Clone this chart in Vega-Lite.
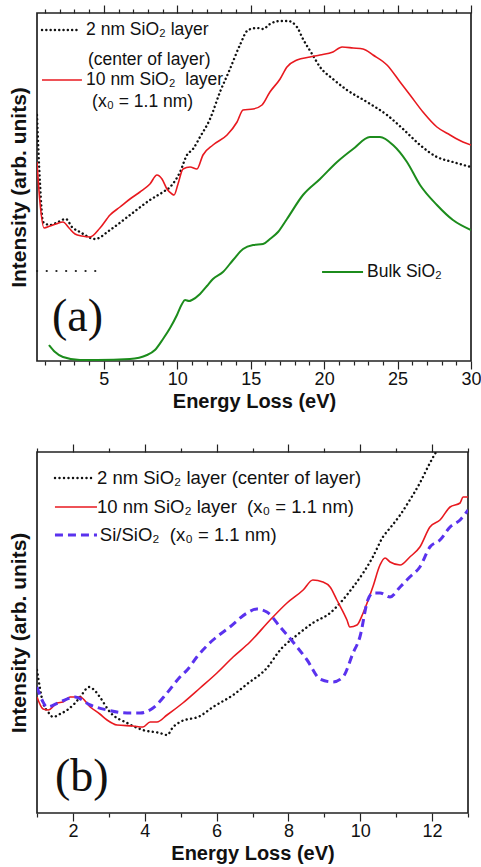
{
  "$schema": "https://vega.github.io/schema/vega-lite/v6.json",
  "background": "white",
  "padding": {"left": 7, "top": 3, "right": 0, "bottom": 0},
  "spacing": 30,
  "config": {
    "view": {"stroke": "#222", "strokeWidth": 1.7},
    "font": "Liberation Sans",
    "axis": {"grid": false}
  },
  "datasets": {
    "t2nm": [
      {"g":"c","E":0.45,"I":246},{"g":"c","E":0.65,"I":179},{"g":"c","E":0.86,"I":139},{"g":"c","E":1.34,"I":136},{"g":"c","E":1.74,"I":138},{"g":"c","E":2.42,"I":142},{"g":"c","E":2.83,"I":134},{"g":"c","E":3.38,"I":129},{"g":"c","E":4.4,"I":122},{"g":"c","E":5.42,"I":131},{"g":"c","E":6.78,"I":146},{"g":"c","E":8.14,"I":161},{"g":"c","E":9.03,"I":169},{"g":"c","E":9.51,"I":174},{"g":"c","E":10.19,"I":189},{"g":"c","E":10.66,"I":206},{"g":"c","E":11.07,"I":212},{"g":"c","E":11.55,"I":224},{"g":"c","E":12.23,"I":242},{"g":"c","E":12.91,"I":269},{"g":"c","E":13.59,"I":292},{"g":"c","E":14.27,"I":316},{"g":"c","E":14.82,"I":331},{"g":"c","E":15.43,"I":333},{"g":"c","E":15.84,"I":332},{"g":"c","E":16.31,"I":337},{"g":"c","E":17.0,"I":340},{"g":"c","E":17.54,"I":340},{"g":"c","E":18.15,"I":334},{"g":"c","E":18.56,"I":322},{"g":"c","E":19.18,"I":307},{"g":"c","E":19.72,"I":294},{"g":"c","E":20.6,"I":282},{"g":"c","E":21.56,"I":271},{"g":"c","E":22.92,"I":259},{"g":"c","E":24.28,"I":246},{"g":"c","E":25.37,"I":232},{"g":"c","E":26.53,"I":216},{"g":"c","E":27.68,"I":204},{"g":"c","E":28.77,"I":199},{"g":"c","E":30.0,"I":194},
      {"g":"leg","E":0.79,"I":331},{"g":"leg","E":3.38,"I":331}
    ],
    "t10": [
      {"g":"c","E":0.45,"I":199},{"g":"c","E":0.65,"I":159},{"g":"c","E":0.93,"I":133},{"g":"c","E":1.34,"I":135},{"g":"c","E":1.74,"I":137},{"g":"c","E":2.22,"I":139},{"g":"c","E":2.63,"I":133},{"g":"c","E":3.04,"I":127},{"g":"c","E":3.51,"I":125},{"g":"c","E":4.06,"I":124},{"g":"c","E":4.74,"I":133},{"g":"c","E":5.42,"I":146},{"g":"c","E":6.1,"I":154},{"g":"c","E":6.78,"I":162},{"g":"c","E":7.46,"I":169},{"g":"c","E":8.14,"I":177},{"g":"c","E":8.62,"I":186},{"g":"c","E":8.96,"I":182},{"g":"c","E":9.3,"I":172},{"g":"c","E":9.64,"I":167},{"g":"c","E":9.78,"I":166},{"g":"c","E":10.05,"I":177},{"g":"c","E":10.39,"I":192},{"g":"c","E":10.87,"I":194},{"g":"c","E":11.34,"I":192},{"g":"c","E":11.75,"I":206},{"g":"c","E":12.43,"I":216},{"g":"c","E":13.39,"I":226},{"g":"c","E":14.07,"I":239},{"g":"c","E":14.48,"I":251},{"g":"c","E":15.16,"I":252},{"g":"c","E":15.77,"I":256},{"g":"c","E":16.31,"I":269},{"g":"c","E":17.0,"I":282},{"g":"c","E":17.47,"I":294},{"g":"c","E":18.15,"I":301},{"g":"c","E":19.04,"I":304},{"g":"c","E":19.72,"I":306},{"g":"c","E":20.6,"I":309},{"g":"c","E":21.22,"I":314},{"g":"c","E":21.97,"I":313},{"g":"c","E":22.65,"I":312},{"g":"c","E":23.33,"I":306},{"g":"c","E":24.28,"I":296},{"g":"c","E":25.17,"I":279},{"g":"c","E":25.85,"I":266},{"g":"c","E":26.73,"I":249},{"g":"c","E":27.68,"I":234},{"g":"c","E":28.57,"I":226},{"g":"c","E":29.45,"I":219},{"g":"c","E":30.0,"I":216},
      {"g":"leg","E":0.79,"I":281},{"g":"leg","E":3.51,"I":281}
    ],
    "tbulk": [
      {"g":"c","E":1.27,"I":16},{"g":"c","E":1.68,"I":9},{"g":"c","E":2.22,"I":4},{"g":"c","E":3.38,"I":1},{"g":"c","E":4.54,"I":1},{"g":"c","E":6.78,"I":2},{"g":"c","E":7.94,"I":6},{"g":"c","E":8.48,"I":11},{"g":"c","E":9.03,"I":22},{"g":"c","E":9.51,"I":33},{"g":"c","E":9.98,"I":46},{"g":"c","E":10.32,"I":57},{"g":"c","E":10.53,"I":61},{"g":"c","E":10.8,"I":60},{"g":"c","E":11.0,"I":61},{"g":"c","E":11.55,"I":67},{"g":"c","E":12.02,"I":75},{"g":"c","E":12.43,"I":82},{"g":"c","E":13.11,"I":89},{"g":"c","E":13.8,"I":101},{"g":"c","E":14.48,"I":112},{"g":"c","E":15.16,"I":116},{"g":"c","E":15.84,"I":117},{"g":"c","E":16.31,"I":122},{"g":"c","E":16.86,"I":129},{"g":"c","E":17.47,"I":142},{"g":"c","E":18.56,"I":166},{"g":"c","E":19.72,"I":182},{"g":"c","E":20.88,"I":199},{"g":"c","E":21.97,"I":212},{"g":"c","E":23.12,"I":224},{"g":"c","E":23.8,"I":224},{"g":"c","E":24.69,"I":216},{"g":"c","E":25.64,"I":199},{"g":"c","E":26.53,"I":176},{"g":"c","E":27.68,"I":156},{"g":"c","E":28.77,"I":141},{"g":"c","E":30.0,"I":131},
      {"g":"leg","E":19.86,"I":89},{"g":"leg","E":22.65,"I":89}
    ],
    "tbase": [{"E":0.45,"I":90},{"E":5.0,"I":90}],
    "tlab": [
      {"E":3.79,"I":331,"t":"2 nm SiO₂ layer"},
      {"E":3.92,"I":301,"t":"(center of layer)"},
      {"E":3.79,"I":281,"t":"10 nm SiO₂\u00a0 layer"},
      {"E":4.2,"I":259,"t":"(x₀ = 1.1 nm)"},
      {"E":22.92,"I":89,"t":"Bulk SiO₂"}
    ],
    "tlet": [{"E":1.47,"I":44,"t":"(a)"}],
    "b2nm": [
      {"g":"c","E":1.0,"I":143},{"g":"c","E":1.17,"I":110},{"g":"c","E":1.31,"I":101},{"g":"c","E":1.45,"I":96},{"g":"c","E":1.64,"I":99},{"g":"c","E":1.84,"I":103},{"g":"c","E":2.06,"I":110},{"g":"c","E":2.2,"I":116},{"g":"c","E":2.45,"I":126},{"g":"c","E":2.62,"I":122},{"g":"c","E":2.75,"I":116},{"g":"c","E":3.03,"I":101},{"g":"c","E":3.51,"I":90},{"g":"c","E":3.95,"I":83},{"g":"c","E":4.42,"I":80},{"g":"c","E":4.62,"I":78},{"g":"c","E":4.79,"I":86},{"g":"c","E":4.98,"I":91},{"g":"c","E":5.54,"I":97},{"g":"c","E":5.9,"I":106},{"g":"c","E":6.46,"I":118},{"g":"c","E":6.85,"I":129},{"g":"c","E":7.4,"I":145},{"g":"c","E":7.77,"I":163},{"g":"c","E":8.24,"I":178},{"g":"c","E":8.68,"I":190},{"g":"c","E":9.16,"I":200},{"g":"c","E":9.44,"I":210},{"g":"c","E":9.8,"I":226},{"g":"c","E":10.08,"I":240},{"g":"c","E":10.35,"I":256},{"g":"c","E":10.63,"I":276},{"g":"c","E":10.83,"I":285},{"g":"c","E":11.11,"I":298},{"g":"c","E":11.38,"I":313},{"g":"c","E":11.66,"I":330},{"g":"c","E":11.94,"I":350},{"g":"c","E":12.11,"I":361},
      {"g":"leg","E":1.5,"I":335},{"g":"leg","E":2.61,"I":335}
    ],
    "b10": [
      {"g":"c","E":1.0,"I":116},{"g":"c","E":1.17,"I":104},{"g":"c","E":1.31,"I":103},{"g":"c","E":1.56,"I":110},{"g":"c","E":1.72,"I":111},{"g":"c","E":1.92,"I":116},{"g":"c","E":2.2,"I":116},{"g":"c","E":2.48,"I":106},{"g":"c","E":2.75,"I":99},{"g":"c","E":2.95,"I":93},{"g":"c","E":3.23,"I":88},{"g":"c","E":3.67,"I":87},{"g":"c","E":3.95,"I":86},{"g":"c","E":4.15,"I":91},{"g":"c","E":4.34,"I":91},{"g":"c","E":4.62,"I":98},{"g":"c","E":5.06,"I":110},{"g":"c","E":5.54,"I":125},{"g":"c","E":6.01,"I":140},{"g":"c","E":6.46,"I":156},{"g":"c","E":6.93,"I":171},{"g":"c","E":7.49,"I":193},{"g":"c","E":7.96,"I":210},{"g":"c","E":8.41,"I":223},{"g":"c","E":8.68,"I":233},{"g":"c","E":8.96,"I":231},{"g":"c","E":9.16,"I":226},{"g":"c","E":9.35,"I":213},{"g":"c","E":9.63,"I":193},{"g":"c","E":9.71,"I":186},{"g":"c","E":9.91,"I":188},{"g":"c","E":10.08,"I":200},{"g":"c","E":10.35,"I":226},{"g":"c","E":10.55,"I":248},{"g":"c","E":10.69,"I":255},{"g":"c","E":10.83,"I":251},{"g":"c","E":11.11,"I":248},{"g":"c","E":11.38,"I":256},{"g":"c","E":11.66,"I":266},{"g":"c","E":11.94,"I":286},{"g":"c","E":12.22,"I":293},{"g":"c","E":12.5,"I":306},{"g":"c","E":12.78,"I":310},{"g":"c","E":12.86,"I":316},{"g":"c","E":13.0,"I":316},
      {"g":"leg","E":1.5,"I":306},{"g":"leg","E":2.67,"I":306}
    ],
    "bsi": [
      {"g":"c","E":1.0,"I":126},{"g":"c","E":1.14,"I":113},{"g":"c","E":1.28,"I":106},{"g":"c","E":1.64,"I":111},{"g":"c","E":2.06,"I":116},{"g":"c","E":2.48,"I":108},{"g":"c","E":2.95,"I":103},{"g":"c","E":3.51,"I":100},{"g":"c","E":3.87,"I":100},{"g":"c","E":4.23,"I":105},{"g":"c","E":4.62,"I":120},{"g":"c","E":4.98,"I":136},{"g":"c","E":5.18,"I":143},{"g":"c","E":5.45,"I":156},{"g":"c","E":5.9,"I":173},{"g":"c","E":6.37,"I":186},{"g":"c","E":6.85,"I":200},{"g":"c","E":7.12,"I":204},{"g":"c","E":7.4,"I":201},{"g":"c","E":7.77,"I":186},{"g":"c","E":8.24,"I":166},{"g":"c","E":8.52,"I":153},{"g":"c","E":8.88,"I":134},{"g":"c","E":9.24,"I":131},{"g":"c","E":9.52,"I":136},{"g":"c","E":9.8,"I":160},{"g":"c","E":9.99,"I":176},{"g":"c","E":10.21,"I":213},{"g":"c","E":10.35,"I":220},{"g":"c","E":10.55,"I":220},{"g":"c","E":10.83,"I":216},{"g":"c","E":11.11,"I":226},{"g":"c","E":11.38,"I":236},{"g":"c","E":11.66,"I":246},{"g":"c","E":11.94,"I":266},{"g":"c","E":12.22,"I":273},{"g":"c","E":12.5,"I":286},{"g":"c","E":12.78,"I":293},{"g":"c","E":13.0,"I":303},
      {"g":"leg","E":1.5,"I":278},{"g":"leg","E":2.67,"I":278}
    ],
    "blab": [
      {"E":2.67,"I":335,"t":"2 nm SiO₂ layer (center of layer)"},
      {"E":2.67,"I":306,"t":"10 nm SiO₂ layer\u00a0 (x₀ = 1.1 nm)"},
      {"E":2.75,"I":278,"t":"Si/SiO₂\u00a0 (x₀ = 1.1 nm)"}
    ],
    "blet": [{"E":1.5,"I":36,"t":"(b)"}]
  },
  "vconcat": [
    {
      "width": 434,
      "height": 348,
      "resolve": {"axis": {"x": "independent"}},
      "encoding": {
        "y": {"field": "I", "type": "quantitative", "scale": {"domain": [0, 348], "nice": false, "zero": false},
          "axis": {"title": "Intensity (arb. units)", "labels": false, "ticks": false, "domain": false, "titleFontSize": 21, "titleFontWeight": "bold", "titleColor": "#111", "titlePadding": 8}}
      },
      "layer": [
        {
          "data": {"name": "t2nm"},
          "mark": {"type": "line", "color": "#111", "strokeWidth": 2.4, "strokeCap": "round", "strokeDash": [0.1, 4.2], "clip": true, "interpolate": "monotone"},
          "encoding": {
            "x": {"field": "E", "type": "quantitative", "scale": {"domain": [0.45, 30], "nice": false, "zero": false},
              "axis": {"orient": "bottom", "values": [1,2,3,4,5,6,7,8,9,10,11,12,13,14,15,16,17,18,19,20,21,22,23,24,25,26,27,28,29,30],
                "labelExpr": "datum.value % 5 === 0 ? datum.label : ''", "labelOverlap": false, "labelFlush": false,
                "tickSize": {"condition": {"test": "datum.value % 5 === 0", "value": 8}, "value": 4},
                "tickColor": "#222", "tickWidth": 1.2, "domain": false, "labelFontSize": 18, "labelColor": "#111", "labelPadding": 1,
                "title": "Energy Loss (eV)", "titleFontSize": 20, "titleFontWeight": "bold", "titleColor": "#111", "titlePadding": 3}},
            "detail": {"field": "g"}
          }
        },
        {
          "data": {"name": "t10"},
          "mark": {"type": "line", "color": "#e8191f", "strokeWidth": 1.6, "clip": true, "interpolate": "monotone"},
          "encoding": {
            "x": {"field": "E", "type": "quantitative", "scale": {"domain": [0.45, 30], "nice": false, "zero": false},
              "axis": {"orient": "top", "values": [1,2,3,4,5,6,7,8,9,10,11,12,13,14,15,16,17,18,19,20,21,22,23,24,25,26,27,28,29,30],
                "labels": false, "title": null, "domain": false,
                "tickSize": {"condition": {"test": "datum.value % 5 === 0", "value": 8}, "value": 4},
                "tickColor": "#222", "tickWidth": 1.2}},
            "detail": {"field": "g"}
          }
        },
        {
          "data": {"name": "tbulk"},
          "mark": {"type": "line", "color": "#1c8c1c", "strokeWidth": 2, "clip": true, "interpolate": "monotone"},
          "encoding": {
            "x": {"field": "E", "type": "quantitative", "axis": null},
            "detail": {"field": "g"}
          }
        },
        {
          "data": {"name": "tbase"},
          "mark": {"type": "line", "color": "#222", "strokeWidth": 2.2, "strokeCap": "round", "strokeDash": [0.1, 9.6]},
          "encoding": {
            "x": {"field": "E", "type": "quantitative", "axis": null}
          }
        },
        {
          "data": {"name": "tlab"},
          "mark": {"type": "text", "align": "left", "baseline": "middle", "fontSize": 17.5, "font": "Liberation Sans", "color": "#111"},
          "encoding": {
            "x": {"field": "E", "type": "quantitative", "axis": null},
            "text": {"field": "t"}
          }
        },
        {
          "data": {"name": "tlet"},
          "mark": {"type": "text", "align": "left", "baseline": "middle", "fontSize": 46, "font": "Liberation Serif", "color": "#111"},
          "encoding": {
            "x": {"field": "E", "type": "quantitative", "axis": null},
            "text": {"field": "t"}
          }
        }
      ]
    },
    {
      "width": 431,
      "height": 361,
      "resolve": {"axis": {"x": "independent"}},
      "encoding": {
        "y": {"field": "I", "type": "quantitative", "scale": {"domain": [0, 361], "nice": false, "zero": false},
          "axis": {"title": "Intensity (arb. units)", "labels": false, "ticks": false, "domain": false, "titleFontSize": 21, "titleFontWeight": "bold", "titleColor": "#111", "titlePadding": 8}}
      },
      "layer": [
        {
          "data": {"name": "b2nm"},
          "mark": {"type": "line", "color": "#111", "strokeWidth": 2.4, "strokeCap": "round", "strokeDash": [0.1, 4.4], "clip": true, "interpolate": "monotone"},
          "encoding": {
            "x": {"field": "E", "type": "quantitative", "scale": {"domain": [1, 13], "nice": false, "zero": false},
              "axis": {"orient": "bottom", "values": [1,2,3,4,5,6,7,8,9,10,11,12,13],
                "labelExpr": "datum.value % 2 === 0 ? datum.label : ''", "labelOverlap": false, "labelFlush": false,
                "tickSize": {"condition": {"test": "datum.value % 2 === 0", "value": 8}, "value": 4},
                "tickColor": "#222", "tickWidth": 1.2, "domain": false, "labelFontSize": 18, "labelColor": "#111", "labelPadding": 1,
                "title": "Energy Loss (eV)", "titleFontSize": 20, "titleFontWeight": "bold", "titleColor": "#111", "titlePadding": 3}},
            "detail": {"field": "g"}
          }
        },
        {
          "data": {"name": "b10"},
          "mark": {"type": "line", "color": "#e8191f", "strokeWidth": 1.6, "clip": true, "interpolate": "monotone"},
          "encoding": {
            "x": {"field": "E", "type": "quantitative", "scale": {"domain": [1, 13], "nice": false, "zero": false},
              "axis": {"orient": "top", "values": [1,2,3,4,5,6,7,8,9,10,11,12,13],
                "labels": false, "title": null, "domain": false,
                "tickSize": {"condition": {"test": "datum.value % 2 === 0", "value": 8}, "value": 4},
                "tickColor": "#222", "tickWidth": 1.2}},
            "detail": {"field": "g"}
          }
        },
        {
          "data": {"name": "bsi"},
          "mark": {"type": "line", "color": "#5a32ee", "strokeWidth": 3, "strokeDash": [8, 5], "clip": true, "interpolate": "monotone"},
          "encoding": {
            "x": {"field": "E", "type": "quantitative", "axis": null},
            "detail": {"field": "g"}
          }
        },
        {
          "data": {"name": "blab"},
          "mark": {"type": "text", "align": "left", "baseline": "middle", "fontSize": 18.5, "font": "Liberation Sans", "color": "#111"},
          "encoding": {
            "x": {"field": "E", "type": "quantitative", "axis": null},
            "text": {"field": "t"}
          }
        },
        {
          "data": {"name": "blet"},
          "mark": {"type": "text", "align": "left", "baseline": "middle", "fontSize": 46, "font": "Liberation Serif", "color": "#111"},
          "encoding": {
            "x": {"field": "E", "type": "quantitative", "axis": null},
            "text": {"field": "t"}
          }
        }
      ]
    }
  ]
}
